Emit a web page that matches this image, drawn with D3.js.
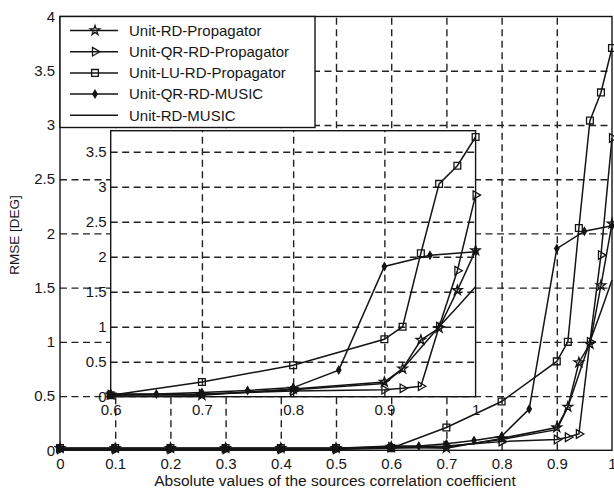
<!DOCTYPE html>
<html>
<head>
<meta charset="utf-8">
<script src="https://cdn.jsdelivr.net/npm/d3@7"></script>
<style>
  html, body { margin: 0; padding: 0; background: #fff; }
  svg text { font-family: "Liberation Sans", Arial, sans-serif; fill: #161616; }
</style>
</head>
<body>
<svg id="chart" width="614" height="490"></svg>
<script>
// x positions of the propagator curves and the plain MUSIC curve
const xProp = [0, 0.1, 0.2, 0.3, 0.4, 0.5, 0.6, 0.7, 0.8, 0.9, 0.92, 0.94, 0.96, 0.98, 1];
// the QR-MUSIC curve was sampled on a slightly different grid
const xQrMusic = [0, 0.1, 0.2, 0.3, 0.4, 0.5, 0.6, 0.65, 0.7, 0.75, 0.8, 0.85, 0.9, 0.95, 1];

const rdProp = [0.02, 0.02, 0.02, 0.02, 0.02, 0.02, 0.03, 0.02, 0.11, 0.21, 0.40, 0.81, 0.98, 1.52, 2.09];
const qrRdProp = [0.01, 0.01, 0.01, 0.01, 0.01, 0.01, 0.03, 0.04, 0.08, 0.10, 0.12, 0.15, 1.00, 1.80, 2.88];
const luRdProp = [0.02, 0.02, 0.02, 0.02, 0.02, 0.02, 0.02, 0.21, 0.45, 0.82, 1.00, 2.05, 3.04, 3.30, 3.71];
const qrRdMusic = [0.02, 0.02, 0.02, 0.02, 0.02, 0.02, 0.04, 0.04, 0.06, 0.09, 0.13, 0.38, 1.86, 2.02, 2.07];
const rdMusic = [0.01, 0.01, 0.01, 0.01, 0.01, 0.01, 0.02, 0.03, 0.10, 0.19, 0.40, 0.70, 1.00, 1.28, 1.57];

const seriesNames = ['Unit-RD-Propagator', 'Unit-QR-RD-Propagator', 'Unit-LU-RD-Propagator', 'Unit-QR-RD-MUSIC', 'Unit-RD-MUSIC'];

const mainXTicks = [0, 0.1, 0.2, 0.3, 0.4, 0.5, 0.6, 0.7, 0.8, 0.9, 1];
const mainYTicks = [0, 0.5, 1, 1.5, 2, 2.5, 3, 3.5, 4];
const insetXTicks = [0.6, 0.7, 0.8, 0.9, 1];
const insetYTicks = [0, 0.5, 1, 1.5, 2, 2.5, 3, 3.5];

const xLabel = 'Absolute values of the sources correlation coefficient';
const yLabel = 'RMSE [DEG]';

const series = [
  {name: seriesNames[0], xs: xProp, ys: rdProp, marker: 'star'},
  {name: seriesNames[1], xs: xProp, ys: qrRdProp, marker: 'triangle'},
  {name: seriesNames[2], xs: xProp, ys: luRdProp, marker: 'square'},
  {name: seriesNames[3], xs: xQrMusic, ys: qrRdMusic, marker: 'diamond'},
  {name: seriesNames[4], xs: xProp, ys: rdMusic, marker: null}
];

const svg = d3.select('#chart');
const ink = '#141414';

function markerPath(kind) {
  if (kind === 'star') return d3.symbol(d3.symbolStar, 28)();
  if (kind === 'triangle') return d3.symbol(d3.symbolTriangle, 32)();
  if (kind === 'square') return d3.symbol(d3.symbolSquare, 46)();
  if (kind === 'diamond') return d3.symbol(d3.symbolDiamond, 16)();
  return null;
}

function drawMarker(g, kind, cx, cy) {
  if (!kind) return;
  const rot = kind === 'triangle' ? 90 : 0;
  g.append('path')
      .attr('d', markerPath(kind))
      .attr('transform', `translate(${cx},${cy}) rotate(${rot})`)
      .attr('fill', kind === 'diamond' ? ink : 'none')
      .attr('stroke', ink)
      .attr('stroke-width', 1.3);
}

// panel = grid + frame + tick labels + curves, used for main plot and inset
function drawPanel(g, x, y, xTicks, yTicks, opts) {
  const [x0, x1] = x.range();
  const [y0, y1] = y.range();

  g.append('rect')
      .attr('x', x0).attr('y', y1)
      .attr('width', x1 - x0).attr('height', y0 - y1)
      .attr('fill', '#fff');

  const gridX = xTicks.slice(1, -1);
  const gridY = yTicks.filter(v => v > y.domain()[0] && v < y.domain()[1]);

  g.append('g')
      .attr('transform', `translate(0,${y0})`)
      .call(d3.axisBottom(x).tickValues(gridX).tickSize(-(y0 - y1)).tickFormat(''))
      .call(a => a.select('.domain').remove())
      .selectAll('line')
      .attr('stroke', '#222').attr('stroke-width', 1.4).attr('stroke-dasharray', '7,4.5');

  g.append('g')
      .attr('transform', `translate(${x0},0)`)
      .call(d3.axisLeft(y).tickValues(gridY).tickSize(-(x1 - x0)).tickFormat(''))
      .call(a => a.select('.domain').remove())
      .selectAll('line')
      .attr('stroke', '#222').attr('stroke-width', 1.4).attr('stroke-dasharray', '7,4.5');

  // tick labels
  const bottom = g.append('g')
      .attr('transform', `translate(0,${y0})`)
      .call(d3.axisBottom(x).tickValues(xTicks).tickSize(0).tickPadding(opts.xPad).tickFormat(d => String(d)));
  bottom.select('.domain').remove();
  bottom.selectAll('text').attr('font-size', 15).attr('fill', ink);

  const left = g.append('g')
      .attr('transform', `translate(${x0},0)`)
      .call(d3.axisLeft(y).tickValues(yTicks).tickSize(0).tickPadding(opts.yPad).tickFormat(d => String(d)));
  left.select('.domain').remove();
  left.selectAll('text').attr('font-size', 15).attr('fill', ink);

  // curves
  const clipId = opts.id + '-clip';
  g.append('clipPath').attr('id', clipId)
      .append('rect')
      .attr('x', x0 - 6).attr('y', y1 - 1)
      .attr('width', x1 - x0 + 12).attr('height', y0 - y1 + 8);

  const plot = g.append('g').attr('clip-path', `url(#${clipId})`);
  const line = d3.line().x(d => x(d[0])).y(d => y(d[1]));

  series.forEach(s => {
    const pts = s.xs.map((xv, i) => [xv, s.ys[i]])
        .filter(p => p[0] >= x.domain()[0] - 1e-9);
    plot.append('path')
        .datum(pts)
        .attr('d', line)
        .attr('fill', 'none')
        .attr('stroke', ink)
        .attr('stroke-width', 1.5);
    pts.forEach(p => drawMarker(plot, s.marker, x(p[0]), y(p[1])));
  });

  g.append('rect')
      .attr('x', x0).attr('y', y1)
      .attr('width', x1 - x0).attr('height', y0 - y1)
      .attr('fill', 'none')
      .attr('stroke', ink)
      .attr('stroke-width', 1.4);
}

// main axes
const xMain = d3.scaleLinear().domain([0, 1]).range([60, 612]);
const yMain = d3.scaleLinear().domain([0, 4]).range([450.3, 16.5]);
drawPanel(svg.append('g'), xMain, yMain, mainXTicks, mainYTicks, {id: 'main', xPad: 8, yPad: 5});

// legend
const legend = svg.append('g');
legend.append('rect')
    .attr('x', 60).attr('y', 16.5)
    .attr('width', 255).attr('height', 111)
    .attr('fill', '#fff')
    .attr('stroke', ink)
    .attr('stroke-width', 1.4);
series.forEach((s, i) => {
  const ly = 30.5 + i * 21.2;
  legend.append('line')
      .attr('x1', 70).attr('x2', 118)
      .attr('y1', ly).attr('y2', ly)
      .attr('stroke', ink).attr('stroke-width', 1.5);
  drawMarker(legend, s.marker, 95, ly);
  legend.append('text')
      .attr('x', 129).attr('y', ly + 5.3)
      .attr('font-size', 15)
      .text(s.name);
});

// inset
const xInset = d3.scaleLinear().domain([0.6, 1]).range([110.7, 475.6]);
const yInset = d3.scaleLinear().domain([0, 3.8]).range([396.7, 130.7]);
drawPanel(svg.append('g'), xInset, yInset, insetXTicks, insetYTicks, {id: 'inset', xPad: 8, yPad: 4});

// axis titles
svg.append('text')
    .attr('x', 335).attr('y', 486)
    .attr('text-anchor', 'middle')
    .attr('font-size', 15.5)
    .text(xLabel);

svg.append('text')
    .attr('transform', 'translate(19,235) rotate(-90)')
    .attr('text-anchor', 'middle')
    .attr('font-size', 13.5)
    .text(yLabel);
</script>
</body>
</html>
